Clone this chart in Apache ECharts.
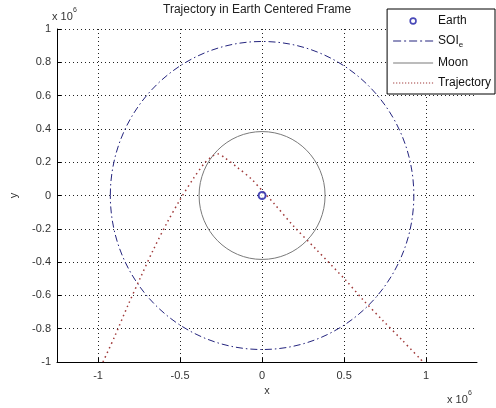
<!DOCTYPE html>
<html>
<head>
<meta charset="utf-8">
<script src="https://cdn.jsdelivr.net/npm/echarts@6/dist/echarts.min.js"></script>
<style>
  html, body { margin: 0; padding: 0; background: #fff; }
  #chart { width: 496px; height: 408px; }
</style>
</head>
<body>
<div id="chart"></div>
<script>
// values are in units of 1e6 (as on the axes)
const earthPos = [[0, 0]]
const soiCircle = [[0, 0, 0.925]]   // centre x, centre y, radius
const moonCircle = [[0, 0, 0.384]]
const trajectory = [
  [-0.97, -1.0], [-0.90, -0.85], [-0.82, -0.665], [-0.74, -0.49],
  [-0.66, -0.32], [-0.58, -0.165], [-0.50, -0.025], [-0.42, 0.10],
  [-0.35, 0.195], [-0.30, 0.238], [-0.27, 0.25], [-0.23, 0.228],
  [-0.15, 0.168], [-0.066, 0.10], [0.0, 0.03], [0.07, -0.045],
  [0.193, -0.185], [0.331, -0.325], [0.512, -0.511], [0.614, -0.625],
  [0.735, -0.75], [0.855, -0.87], [0.982, -1.0]
]
const xRange = [-1.25, 1.31]
const yRange = [-1, 1]

const font = 'Liberation Sans, Arial, sans-serif'
const navy = '#24247e'
const moonGray = '#7a7a7a'
const trajRed = '#a03a3a'
const earthBlue = '#1c1ca6'

// legend icon paths, drawn in a 40x12 box (tiny corner squares fix the bounds)
const box = 'M0,0h0.01v0.01h-0.01z M39.99,11.99h0.01v0.01h-0.01z '
const iconEarth = 'path://' + box +
  'M16.3,6 a3.7,3.7 0 1,0 7.4,0 a3.7,3.7 0 1,0 -7.4,0 z ' +
  'M17.9,6 a2.1,2.1 0 1,1 4.2,0 a2.1,2.1 0 1,1 -4.2,0 z'
const iconSoi = 'path://' + box +
  'M0,5.4h8v1.2h-8z M11,5.4h2v1.2h-2z M16,5.4h8v1.2h-8z M27,5.4h2v1.2h-2z M32,5.4h8v1.2h-8z'
const iconMoon = 'path://' + box + 'M0,5.5h40v1h-40z'
let dots = ''
for (let i = 0; i < 40; i += 3) dots += 'M' + i + ',5.4h1.2v1.2h-1.2z '
const iconTraj = 'path://' + box + dots

const circleItem = (color, dash) => (params, api) => {
  const c = api.coord([api.value(0), api.value(1)])
  const s = api.size([api.value(2), api.value(2)])
  return {
    type: 'ellipse',
    shape: { cx: c[0], cy: c[1], rx: s[0], ry: s[1] },
    style: { fill: 'none', stroke: color, lineWidth: 1, lineDash: dash }
  }
}

const chart = echarts.init(document.getElementById('chart'))

chart.setOption({
  animation: false,
  backgroundColor: '#fff',
  textStyle: { fontFamily: font },
  title: {
    text: 'Trajectory in Earth Centered Frame',
    left: 163,
    top: 4,
    padding: 0,
    textStyle: { fontSize: 12, fontWeight: 'normal', color: '#222', fontFamily: font }
  },
  legend: {
    orient: 'vertical',
    right: 1,
    top: 9,
    padding: [6, 4, 5, 6],
    itemGap: 8,
    itemWidth: 40,
    itemHeight: 12,
    backgroundColor: '#fff',
    borderColor: '#000',
    borderWidth: 1,
    borderRadius: 0,
    textStyle: {
      fontSize: 12, color: '#111', fontFamily: font,
      rich: { sub: { fontSize: 8, padding: [8, 0, 0, 0], color: '#111' } }
    },
    formatter: name => name === 'SOI' ? 'SOI{sub|e}' : name,
    data: [
      { name: 'Earth', icon: iconEarth, itemStyle: { borderWidth: 0 } },
      { name: 'SOI', icon: iconSoi, itemStyle: { borderWidth: 0 } },
      { name: 'Moon', icon: iconMoon, itemStyle: { borderWidth: 0 } },
      { name: 'Trajectory', icon: iconTraj, itemStyle: { borderWidth: 0 } }
    ]
  },
  grid: { left: 51, right: 19, top: 29, bottom: 46 },
  xAxis: {
    type: 'value',
    min: xRange[0],
    max: xRange[1],
    splitNumber: 5,
    name: 'x',
    nameLocation: 'middle',
    nameGap: 15,
    nameTextStyle: { fontSize: 11, color: '#333' },
    axisLine: { show: true, onZero: false, lineStyle: { color: '#000', width: 1 } },
    axisTick: { show: true, inside: true, length: 4, lineStyle: { color: '#000' } },
    axisLabel: { fontSize: 11, color: '#333', margin: 8, showMinLabel: false, showMaxLabel: false },
    splitLine: { show: true, showMinLine: false, showMaxLine: false, lineStyle: { color: '#222', type: [1, 3] } }
  },
  yAxis: {
    type: 'value',
    min: yRange[0],
    max: yRange[1],
    interval: 0.2,
    name: 'y',
    nameLocation: 'middle',
    nameGap: 38,
    nameTextStyle: { fontSize: 11, color: '#333' },
    axisLine: { show: true, onZero: false, lineStyle: { color: '#000', width: 1 } },
    axisTick: { show: true, inside: true, length: 4, lineStyle: { color: '#000' } },
    axisLabel: { fontSize: 11, color: '#333', margin: 6 },
    splitLine: { show: true, showMinLine: false, lineStyle: { color: '#222', type: [1, 3] } }
  },
  graphic: [
    { type: 'text', left: 52, top: 11, style: { text: 'x 10', fontSize: 11, fill: '#333', fontFamily: font } },
    { type: 'text', left: 73, top: 7, style: { text: '6', fontSize: 7, fill: '#333', fontFamily: font } },
    { type: 'text', left: 447, top: 394, style: { text: 'x 10', fontSize: 11, fill: '#333', fontFamily: font } },
    { type: 'text', left: 468, top: 390, style: { text: '6', fontSize: 7, fill: '#333', fontFamily: font } }
  ],
  series: [
    {
      name: 'SOI',
      type: 'custom',
      data: soiCircle,
      encode: { x: 0, y: 1 },
      itemStyle: { color: navy },
      renderItem: circleItem(navy, [7, 3, 1.5, 3]),
      z: 3
    },
    {
      name: 'Moon',
      type: 'custom',
      data: moonCircle,
      encode: { x: 0, y: 1 },
      itemStyle: { color: moonGray },
      renderItem: circleItem(moonGray, null),
      z: 3
    },
    {
      name: 'Trajectory',
      type: 'line',
      data: trajectory,
      showSymbol: false,
      smooth: 0.3,
      color: trajRed,
      lineStyle: { color: trajRed, width: 1.5, type: [1.5, 3.5] },
      z: 4
    },
    {
      name: 'Earth',
      type: 'scatter',
      data: earthPos,
      symbol: 'emptyCircle',
      symbolSize: 7,
      itemStyle: { color: earthBlue, borderColor: earthBlue, borderWidth: 2 },
      z: 5
    }
  ]
})
</script>
</body>
</html>
